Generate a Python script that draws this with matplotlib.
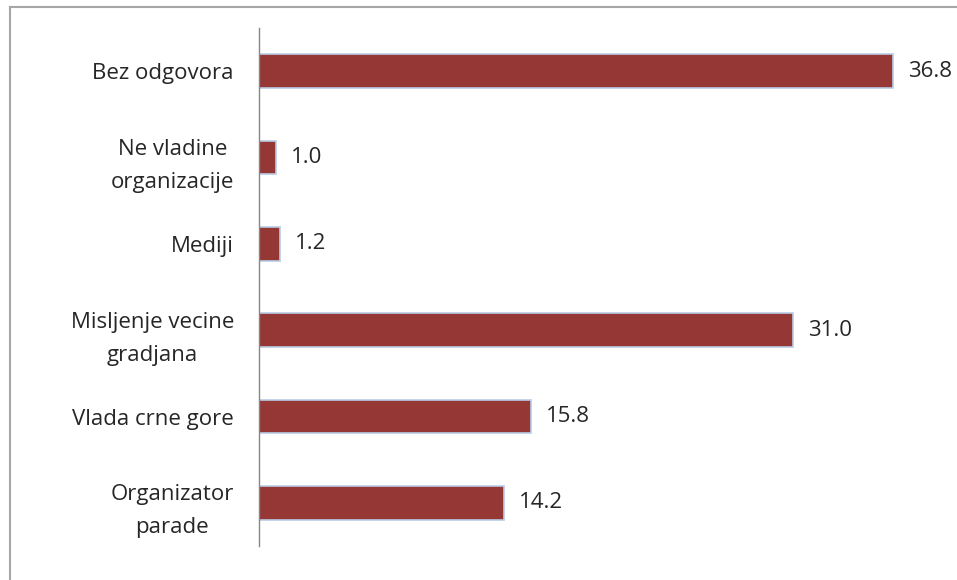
import numpy as np
import matplotlib.pyplot as plt
from matplotlib.lines import Line2D

# data (top to bottom as shown)
categories = ["Bez odgovora", "Ne vladine\norganizacije", "Mediji",
              "Misljenje vecine\ngradjana", "Vlada crne gore", "Organizator\nparade"]
values = [36.8, 1.0, 1.2, 31.0, 15.8, 14.2]

plt.rcParams['font.family'] = ['Open Sans', 'DejaVu Sans']

fig = plt.figure(figsize=(9.57, 5.8), dpi=100)
ax = fig.add_axes([259 / 957, 1 - 546 / 580, (948 - 259) / 957, (546 - 28) / 580])

y = np.arange(len(categories))
ax.barh(y, values, height=0.39, color='#953735', edgecolor='#b9cde5', linewidth=1.2)

for yi, v in zip(y, values):
    ax.annotate(f"{v:.1f}", xy=(v, yi), xytext=(15, 0), textcoords='offset pixels',
                va='center', ha='left', fontsize=16, color='#262626')

ax.set_xlim(0, 40)
ax.set_ylim(len(categories) - 0.5, -0.5)
ax.set_yticks(y)
ax.set_yticklabels(categories, fontsize=16, color='#262626',
                   multialignment='center', linespacing=1.75)
ax.tick_params(axis='y', length=0, pad=18)
ax.set_xticks([])
for s in ['top', 'right', 'bottom']:
    ax.spines[s].set_visible(False)
ax.spines['left'].set_color('#868686')
ax.spines['left'].set_linewidth(1)

# chart frame (left and top edges visible)
fig.add_artist(Line2D([10 / 957, 10 / 957], [0, 1 - 7 / 580], color='#a6a6a6', lw=1.5))
fig.add_artist(Line2D([10 / 957, 1], [1 - 7 / 580, 1 - 7 / 580], color='#a6a6a6', lw=1.5))

fig.savefig('out.png', dpi=100)
